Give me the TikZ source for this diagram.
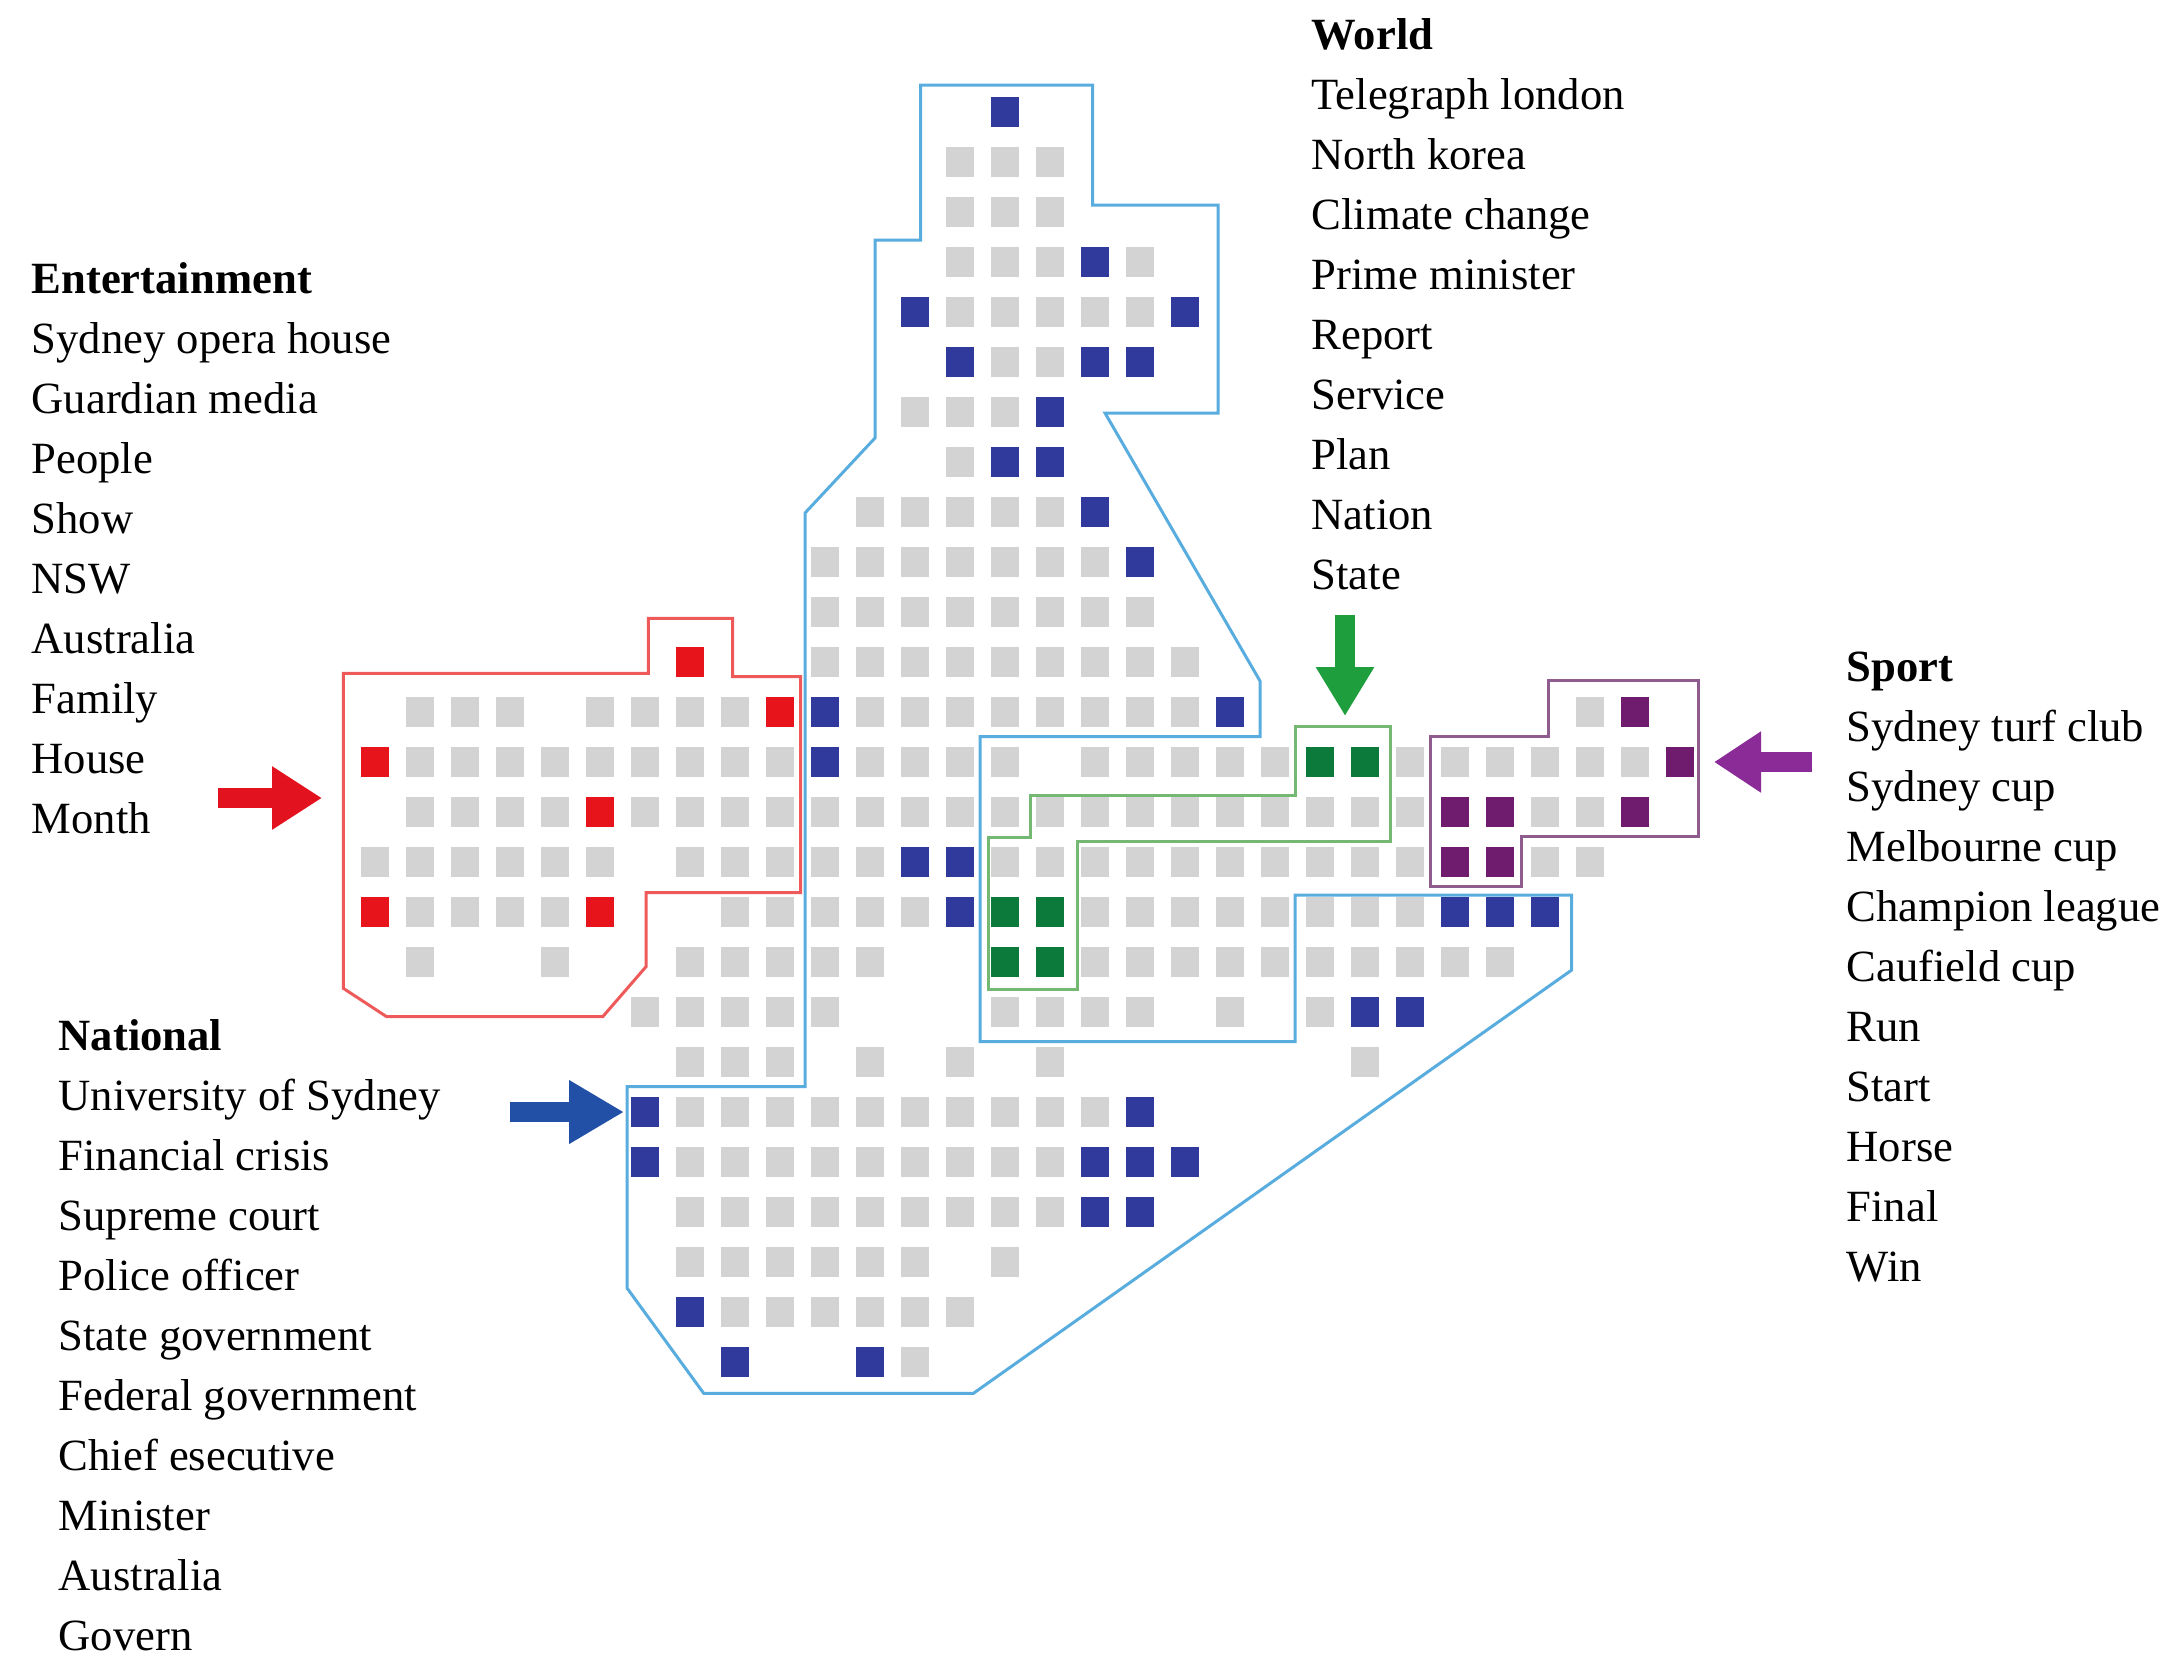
\documentclass[tikz,border=0pt]{standalone}
\usepackage{fontspec}
\setmainfont{Liberation Serif}
\usetikzlibrary{arrows.meta}

\definecolor{cellgray}{HTML}{D3D3D3}
\definecolor{cellblue}{HTML}{2F3A9C}
\definecolor{cellred}{HTML}{E8141C}
\definecolor{cellgreen}{HTML}{0B7A3A}
\definecolor{cellpurple}{HTML}{701C6E}
\definecolor{lineblue}{HTML}{58ACDE}
\definecolor{linered}{HTML}{EE5A5A}
\definecolor{linegreen}{HTML}{74B874}
\definecolor{linepurple}{HTML}{8E5C8E}
\definecolor{arrred}{HTML}{E3121F}
\definecolor{arrblue}{HTML}{2250A6}
\definecolor{arrgreen}{HTML}{1F9E3E}
\definecolor{arrpurple}{HTML}{8A2B98}

% one row of map cells: row index, colour, list of column indices
\newcommand\cellrow[3]{%
  \foreach \cc in {#3}{\fill[#2] ({375+45*\cc-14},{112+50*#1-15}) rectangle ++(28,30);}}

\begin{document}
\begin{tikzpicture}[x=0.1mm,y=-0.1mm,
  lbl/.style={anchor=base west,inner sep=0pt,font=\fontsize{12.7}{15}\selectfont},
  head/.style={lbl,font=\fontsize{12.7}{15}\selectfont\bfseries},
  region/.style={line width=0.3mm,line join=miter},
  pointer/.style={line width=2mm}]
\useasboundingbox (0,0) rectangle (2167,1658);

% ---------------- map cells ----------------
\cellrow{0}{cellblue}{14}
\cellrow{1}{cellgray}{13,...,15}
\cellrow{2}{cellgray}{13,...,15}
\cellrow{3}{cellgray}{13,14,15,17}
\cellrow{3}{cellblue}{16}
\cellrow{4}{cellblue}{12,18}
\cellrow{4}{cellgray}{13,...,17}
\cellrow{5}{cellblue}{13,16,17}
\cellrow{5}{cellgray}{14,15}
\cellrow{6}{cellgray}{12,13,14}
\cellrow{6}{cellblue}{15}
\cellrow{7}{cellgray}{13}
\cellrow{7}{cellblue}{14,15}
\cellrow{8}{cellgray}{11,...,15}
\cellrow{8}{cellblue}{16}
\cellrow{9}{cellgray}{10,...,16}
\cellrow{9}{cellblue}{17}
\cellrow{10}{cellgray}{10,...,17}
\cellrow{11}{cellred}{7}
\cellrow{11}{cellgray}{10,...,18}
\cellrow{12}{cellgray}{1,2,3}
\cellrow{12}{cellgray}{5,...,8}
\cellrow{12}{cellgray}{11,...,18}
\cellrow{12}{cellgray}{27}
\cellrow{12}{cellred}{9}
\cellrow{12}{cellblue}{10,19}
\cellrow{12}{cellpurple}{28}
\cellrow{13}{cellred}{0}
\cellrow{13}{cellgray}{1,...,9}
\cellrow{13}{cellgray}{11,...,14}
\cellrow{13}{cellgray}{16,...,20}
\cellrow{13}{cellgray}{23,...,28}
\cellrow{13}{cellblue}{10}
\cellrow{13}{cellgreen}{21,22}
\cellrow{13}{cellpurple}{29}
\cellrow{14}{cellgray}{1,...,4}
\cellrow{14}{cellgray}{6,...,23}
\cellrow{14}{cellgray}{26,27}
\cellrow{14}{cellred}{5}
\cellrow{14}{cellpurple}{24,25,28}
\cellrow{15}{cellgray}{0,...,5}
\cellrow{15}{cellgray}{7,...,11}
\cellrow{15}{cellgray}{14,...,23}
\cellrow{15}{cellgray}{26,27}
\cellrow{15}{cellblue}{12,13}
\cellrow{15}{cellpurple}{24,25}
\cellrow{16}{cellred}{0,5}
\cellrow{16}{cellgray}{1,...,4}
\cellrow{16}{cellgray}{8,...,12}
\cellrow{16}{cellgray}{16,...,23}
\cellrow{16}{cellblue}{13,24,25,26}
\cellrow{16}{cellgreen}{14,15}
\cellrow{17}{cellgray}{1,4}
\cellrow{17}{cellgray}{7,...,11}
\cellrow{17}{cellgray}{16,...,25}
\cellrow{17}{cellgreen}{14,15}
\cellrow{18}{cellgray}{6,...,10}
\cellrow{18}{cellgray}{14,...,17}
\cellrow{18}{cellgray}{19,21}
\cellrow{18}{cellblue}{22,23}
\cellrow{19}{cellgray}{7,8,9,11,13,15,22}
\cellrow{20}{cellblue}{6,17}
\cellrow{20}{cellgray}{7,...,16}
\cellrow{21}{cellblue}{6,16,17,18}
\cellrow{21}{cellgray}{7,...,15}
\cellrow{22}{cellgray}{7,...,15}
\cellrow{22}{cellblue}{16,17}
\cellrow{23}{cellgray}{7,...,12}
\cellrow{23}{cellgray}{14}
\cellrow{24}{cellblue}{7}
\cellrow{24}{cellgray}{8,...,13}
\cellrow{25}{cellblue}{8,11}
\cellrow{25}{cellgray}{12}

% ---------------- cluster outlines ----------------
\draw[region,lineblue] (920.7,85) -- (1092.7,85) -- (1092.7,205) -- (1218,205)
  -- (1218,413) -- (1105,413) -- (1260,681) -- (1260,736.7) -- (980,736.7)
  -- (980,1041.7) -- (1295,1041.7) -- (1295,895) -- (1571.7,895) -- (1571.7,970)
  -- (973.4,1393.3) -- (703.7,1393.3) -- (627,1288) -- (627,1086.7) -- (805,1086.7)
  -- (805,513) -- (875,438) -- (875,240) -- (920.7,240) -- cycle;
\draw[region,linered] (343.3,673.3) -- (648.3,673.3) -- (648.3,618.3) -- (732.7,618.3)
  -- (732.7,676.7) -- (800.7,676.7) -- (800.7,892.7) -- (646,892.7) -- (646,966.7)
  -- (602.7,1016.7) -- (386.7,1016.7) -- (343.3,988.3) -- cycle;
\draw[region,linegreen] (988,837) -- (1030,837) -- (1030,795) -- (1295,795)
  -- (1295,726.7) -- (1390,726.7) -- (1390,841.7) -- (1077,841.7) -- (1077,989)
  -- (988,989) -- cycle;
\draw[region,linepurple] (1548.3,680) -- (1698.3,680) -- (1698.3,836.7) -- (1521.7,836.7)
  -- (1521.7,886.7) -- (1430,886.7) -- (1430,736.7) -- (1548.3,736.7) -- cycle;

% ---------------- pointers ----------------
\coordinate (ent-tail) at (218,798);   \coordinate (ent-tip) at (322,798);
\coordinate (nat-tail) at (510,1112);  \coordinate (nat-tip) at (624,1112);
\coordinate (wld-tail) at (1345,615);  \coordinate (wld-tip) at (1345,716);
\coordinate (spt-tail) at (1812,762);  \coordinate (spt-tip) at (1714,762);
\draw[pointer,arrred,-{Triangle[length=5mm,width=6mm]}] (ent-tail) -- (ent-tip);
\draw[pointer,arrblue,-{Triangle[length=5.5mm,width=6mm]}] (nat-tail) -- (nat-tip);
\draw[pointer,arrgreen,-{Triangle[length=4.9mm,width=5.5mm]}] (wld-tail) -- (wld-tip);
\draw[pointer,arrpurple,-{Triangle[length=4.7mm,width=5.8mm]}] (spt-tail) -- (spt-tip);

% ---------------- topic word lists ----------------
\node[head] (world-0) at (1311,49) {World};
\foreach \t [count=\i] in {Telegraph london,North korea,Climate change,Prime minister,
    Report,Service,Plan,Nation,State}
  \node[lbl] (world-\i) at (1311,{49+60*\i}) {\t};

\node[head] (ent-0) at (31,293) {Entertainment};
\foreach \t [count=\i] in {Sydney opera house,Guardian media,People,Show,NSW,
    Australia,Family,House,Month}
  \node[lbl] (ent-\i) at (31,{293+60*\i}) {\t};

\node[head] (nat-0) at (58,1050) {National};
\foreach \t [count=\i] in {University of Sydney,Financial crisis,Supreme court,
    Police officer,State government,Federal government,Chief esecutive,Minister,
    Australia,Govern}
  \node[lbl] (nat-\i) at (58,{1050+60*\i}) {\t};

\node[head] (spt-0) at (1846,681) {Sport};
\foreach \t [count=\i] in {Sydney turf club,Sydney cup,Melbourne cup,Champion league,
    Caufield cup,Run,Start,Horse,Final,Win}
  \node[lbl] (spt-\i) at (1846,{681+60*\i}) {\t};
\end{tikzpicture}
\end{document}
